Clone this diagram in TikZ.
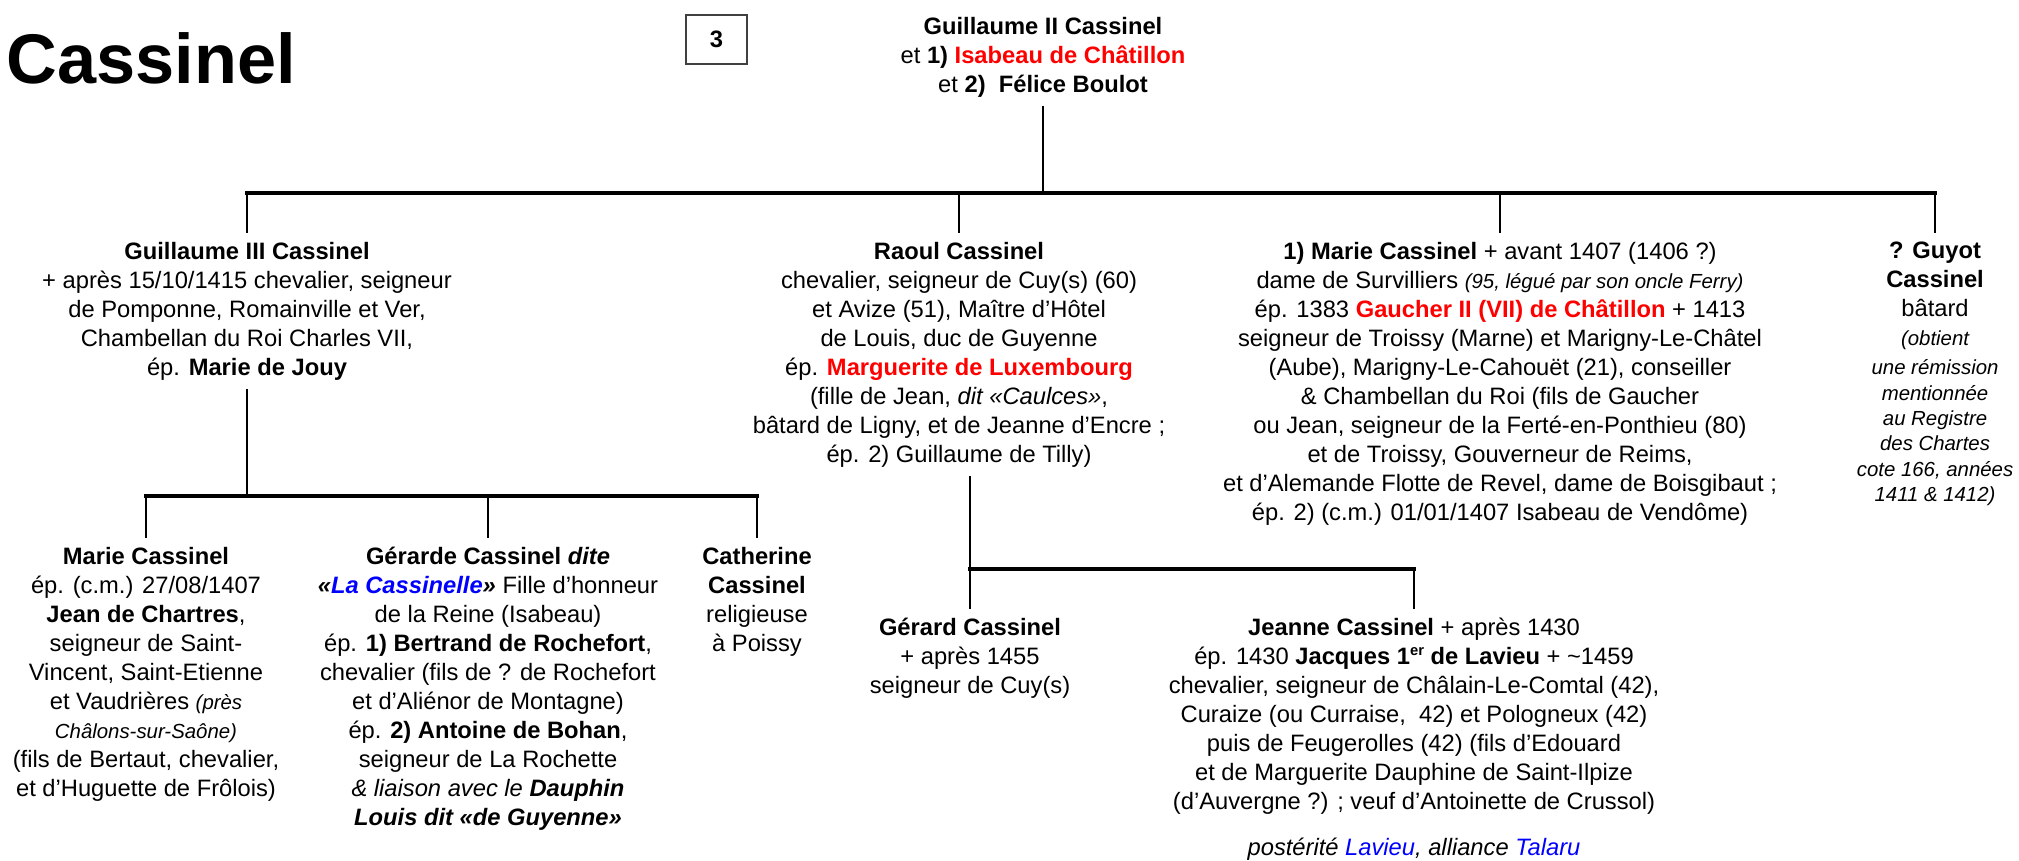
\documentclass[tikz,border=0pt]{standalone}
\usepackage{fontspec}
\setmainfont{Liberation Sans}
\usepackage{xcolor}
\usetikzlibrary{positioning}

\definecolor{alliancered}{RGB}{255,0,0}
\definecolor{linkblue}{RGB}{0,0,255}
\newcommand{\redname}[1]{\textcolor{alliancered}{\textbf{#1}}}
\newcommand{\bluename}[1]{\textcolor{linkblue}{#1}}
\newcommand{\smallnote}[1]{{\fontsize{5.8}{7.1}\selectfont\itshape #1}}
\newcommand{\ordinal}[1]{\raisebox{0.75ex}{\fontsize{4.2}{5}\selectfont #1}}

\begin{document}
\begin{tikzpicture}[
    % Styles
    person/.style={align=center, anchor=north, inner xsep=0pt, inner ysep=1mm, outer sep=0pt, font=\fontsize{6.75}{8.25}\selectfont},
    tie/.style={line width=0.8pt, line cap=rect, black},
    bar/.style={tie, line width=1pt}
]
    \useasboundingbox (0,0) rectangle (20.19,-8.61);

    % --- Heading ---
    \node[anchor=base west, inner sep=0pt, font=\fontsize{20}{24}\selectfont\bfseries] (title) at (0.06,-0.84) {Cassinel};
    \node[draw=black!75, line width=0.4pt, minimum width=0.61cm, minimum height=0.49cm, font=\fontsize{6.75}{8.25}\selectfont\bfseries] (volume) at (7.165,-0.395) {3};

    % Root couple
    \node[person] (g2) at (10.43,-0.07) {\textbf{Guillaume II Cassinel}\\
        et \textbf{1)} \redname{Isabeau de Châtillon}\\
        et \textbf{2)\ \ Félice Boulot}};

    % --- First generation ---
    \node[person] (g3) at (2.47,-2.32) {\textbf{Guillaume III Cassinel}\\
        + après 15/10/1415 chevalier, seigneur\\
        de Pomponne, Romainville et Ver,\\
        Chambellan du Roi Charles VII,\\
        ép. \textbf{Marie de Jouy}};
    \node[person] (raoul) at (9.59,-2.32) {\textbf{Raoul Cassinel}\\
        chevalier, seigneur de Cuy(s) (60)\\
        et Avize (51), Maître d’Hôtel\\
        de Louis, duc de Guyenne\\
        ép. \redname{Marguerite de Luxembourg}\\
        (fille de Jean, \textit{dit «Caulces»},\\
        bâtard de Ligny, et de Jeanne d’Encre ;\\
        ép. 2) Guillaume de Tilly)};
    \node[person] (marie) at (15.00,-2.32) {\textbf{1) Marie Cassinel} + avant 1407 (1406 ?)\\
        dame de Survilliers \smallnote{(95, légué par son oncle Ferry)}\\
        ép. 1383 \redname{Gaucher II (VII) de Châtillon} + 1413\\
        seigneur de Troissy (Marne) et Marigny-Le-Châtel\\
        (Aube), Marigny-Le-Cahouët (21), conseiller\\
        \& Chambellan du Roi (fils de Gaucher\\
        ou Jean, seigneur de la Ferté-en-Ponthieu (80)\\
        et de Troissy, Gouverneur de Reims,\\
        et d’Alemande Flotte de Revel, dame de Boisgibaut ;\\
        ép. 2) (c.m.) 01/01/1407 Isabeau de Vendôme)};
    \node[person] (guyot) at (19.35,-2.32) {\textbf{? Guyot}\\
        \textbf{Cassinel}\\
        bâtard\\
        \smallnote{(obtient}\\
        \smallnote{une rémission}\\[-1pt]
        \smallnote{mentionnée}\\[-1pt]
        \smallnote{au Registre}\\[-1pt]
        \smallnote{des Chartes}\\[-1pt]
        \smallnote{cote 166, années}\\[-1pt]
        \smallnote{1411 \& 1412)}};

    % --- Children of Guillaume III ---
    \node[person] (mariec) at (1.46,-5.37) {\textbf{Marie Cassinel}\\
        ép. (c.m.) 27/08/1407\\
        \textbf{Jean de Chartres},\\
        seigneur de Saint-\\
        Vincent, Saint-Etienne\\
        et Vaudrières \smallnote{(près}\\
        \smallnote{Châlons-sur-Saône)}\\
        (fils de Bertaut, chevalier,\\
        et d’Huguette de Frôlois)};
    \node[person] (gerarde) at (4.88,-5.37) {\textbf{Gérarde Cassinel \textit{dite}}\\
        \textbf{\textit{«\bluename{La Cassinelle}»}} Fille d’honneur\\
        de la Reine (Isabeau)\\
        ép. \textbf{1) Bertrand de Rochefort},\\
        chevalier (fils de ? de Rochefort\\
        et d’Aliénor de Montagne)\\
        ép. \textbf{2) Antoine de Bohan},\\
        seigneur de La Rochette\\
        \textit{\& liaison avec le \textbf{Dauphin}}\\
        \textbf{\textit{Louis dit «de Guyenne»}}};
    \node[person] (catherine) at (7.57,-5.37) {\textbf{Catherine}\\
        \textbf{Cassinel}\\
        religieuse\\
        à Poissy};

    % --- Children of Raoul ---
    \node[person] (gerard) at (9.70,-6.08) {\textbf{Gérard Cassinel}\\
        + après 1455\\
        seigneur de Cuy(s)};
    \node[person] (jeanne) at (14.14,-6.08) {\textbf{Jeanne Cassinel} + après 1430\\
        ép. 1430 \textbf{Jacques 1\ordinal{er} de Lavieu} + \textasciitilde1459\\
        chevalier, seigneur de Châlain-Le-Comtal (42),\\
        Curaize (ou Curraise,\ \ 42) et Pologneux (42)\\
        puis de Feugerolles (42) (fils d’Edouard\\
        et de Marguerite Dauphine de Saint-Ilpize\\
        (d’Auvergne ?) ; veuf d’Antoinette de Crussol)};
    \node[person, below=0.4mm of jeanne] (posterity) {\textit{postérité \bluename{Lavieu}, alliance \bluename{Talaru}}};

    % Connections
    \coordinate (topbar) at (0,-1.93);
    \coordinate (g3bar) at (0,-4.96);
    \coordinate (raoulbar) at (0,-5.69);

    \draw[tie] (g2.south) -- (g2.south |- topbar);
    \draw[bar] (g3.north |- topbar) -- (guyot.north |- topbar);
    \draw[tie] (g3.north) -- (g3.north |- topbar);
    \draw[tie] (raoul.north) -- (raoul.north |- topbar);
    \draw[tie] (marie.north) -- (marie.north |- topbar);
    \draw[tie] (guyot.north) -- (guyot.north |- topbar);

    \draw[tie] (g3.south) -- (g3.south |- g3bar);
    \draw[bar] (mariec.north |- g3bar) -- (catherine.north |- g3bar);
    \draw[tie] (mariec.north) -- (mariec.north |- g3bar);
    \draw[tie] (gerarde.north) -- (gerarde.north |- g3bar);
    \draw[tie] (catherine.north) -- (catherine.north |- g3bar);

    \draw[tie] (gerard.north |- raoul.south) -- (gerard.north);
    \draw[bar] (gerard.north |- raoulbar) -- (jeanne.north |- raoulbar);
    \draw[tie] (jeanne.north) -- (jeanne.north |- raoulbar);

\end{tikzpicture}
\end{document}
